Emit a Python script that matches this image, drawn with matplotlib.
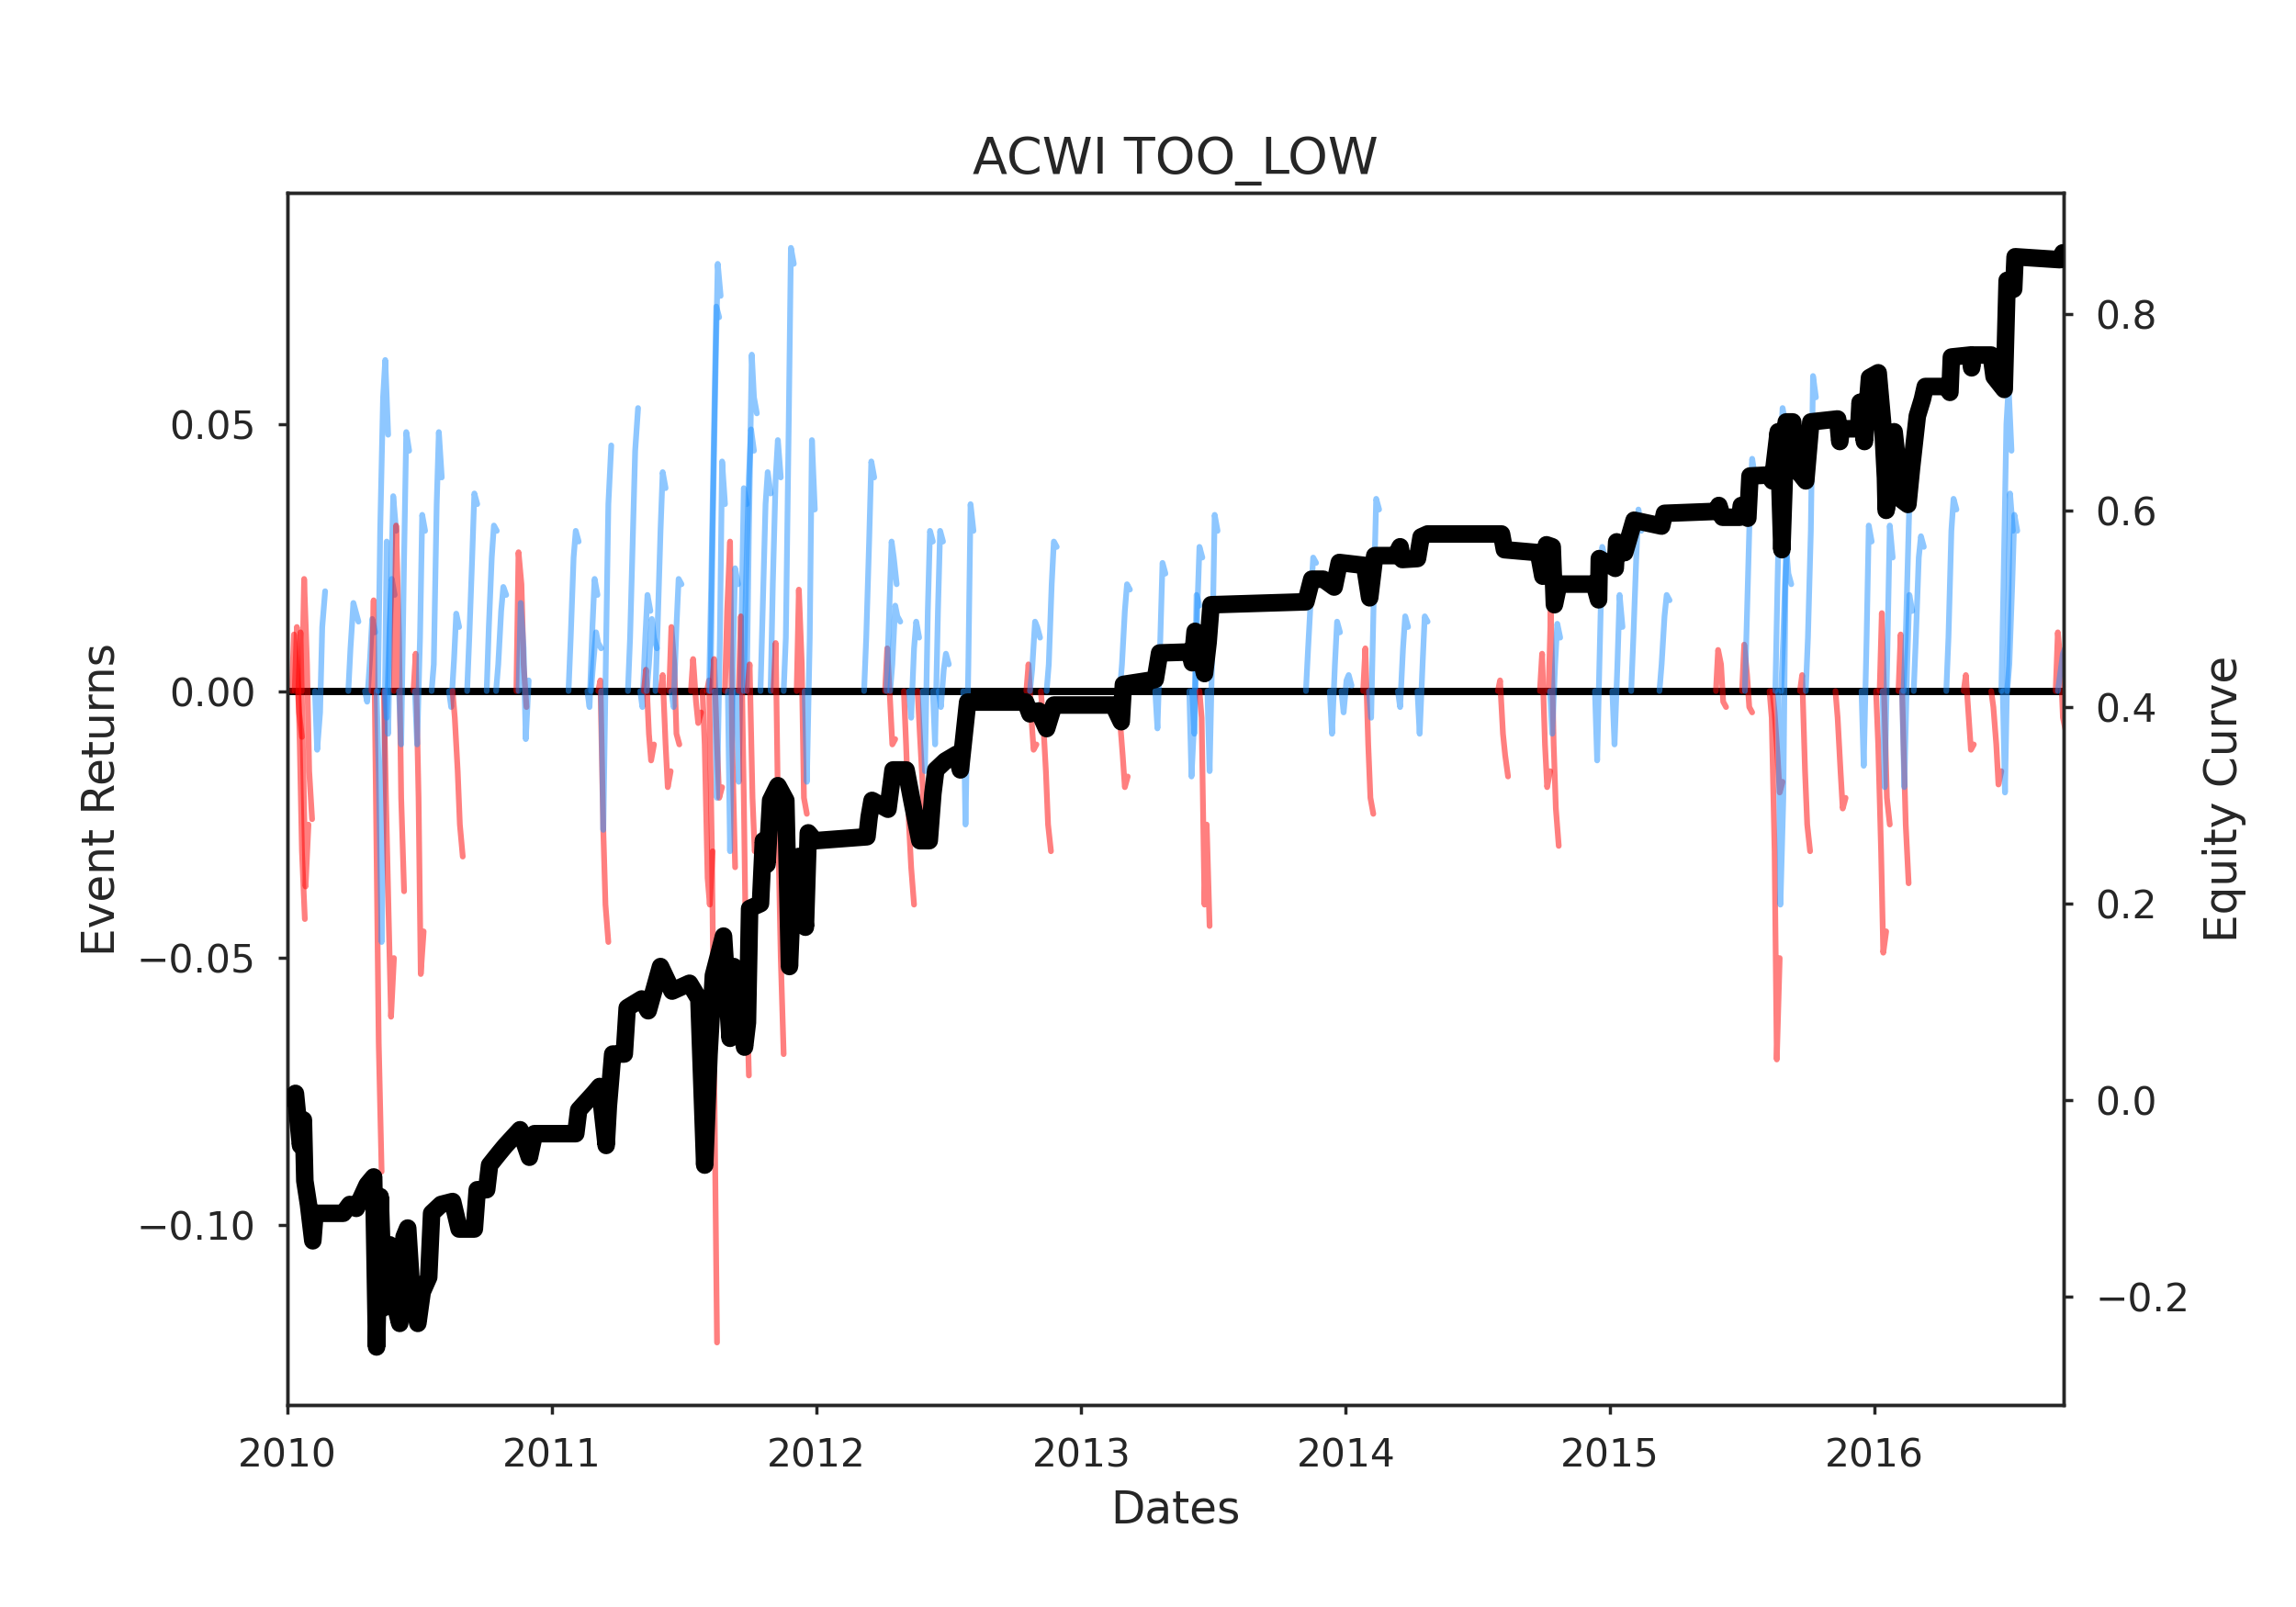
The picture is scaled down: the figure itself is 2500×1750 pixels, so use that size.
import matplotlib
matplotlib.use("Agg")
import matplotlib.pyplot as plt
import matplotlib.dates as mdates
import pandas as pd

TITLE = "ACWI TOO_LOW"
X_LABEL = "Dates"
Y_LABEL_LEFT = "Event Returns"
Y_LABEL_RIGHT = "Equity Curve"

# ---- equity curve (right axis) ----
equity_dates = [
    "2010-01-05", "2010-01-12", "2010-01-19", "2010-01-23", "2010-01-25", "2010-01-30",
    "2010-02-05", "2010-02-08", "2010-03-19", "2010-03-28", "2010-04-06", "2010-04-21",
    "2010-04-30", "2010-05-04", "2010-05-09", "2010-05-14", "2010-05-22", "2010-05-27",
    "2010-06-05", "2010-06-11", "2010-06-16", "2010-06-22", "2010-06-30", "2010-07-06",
    "2010-07-15", "2010-07-19", "2010-08-01", "2010-08-17", "2010-08-26", "2010-09-16",
    "2010-09-20", "2010-10-03", "2010-10-07", "2010-10-20", "2010-10-29", "2010-11-18",
    "2010-12-01", "2010-12-08",
    "2011-02-03", "2011-02-07", "2011-02-28", "2011-03-08", "2011-03-17", "2011-03-20",
    "2011-03-26", "2011-04-11", "2011-04-15", "2011-05-05", "2011-05-14", "2011-05-31",
    "2011-06-16", "2011-07-10", "2011-07-23", "2011-07-31", "2011-08-06", "2011-08-12",
    "2011-08-26", "2011-09-04", "2011-09-09", "2011-09-24", "2011-09-28", "2011-10-01",
    "2011-10-16", "2011-10-20", "2011-10-25", "2011-10-30", "2011-11-09", "2011-11-20",
    "2011-11-25", "2011-11-29", "2011-12-08", "2011-12-17", "2011-12-21", "2011-12-30",
    "2012-03-11", "2012-03-14", "2012-03-18", "2012-04-09", "2012-04-16", "2012-05-04",
    "2012-05-12", "2012-05-23", "2012-06-05", "2012-06-10", "2012-06-14", "2012-06-27",
    "2012-07-13", "2012-07-18", "2012-07-28", "2012-10-16", "2012-10-22", "2012-11-03",
    "2012-11-14", "2012-11-24",
    "2013-02-14", "2013-02-25", "2013-02-28", "2013-04-13", "2013-04-19", "2013-05-31",
    "2013-06-03", "2013-06-07", "2013-06-20", "2013-06-25", "2013-06-29", "2013-11-07",
    "2013-11-15", "2013-12-01", "2013-12-16", "2013-12-23",
    "2014-01-27", "2014-02-03", "2014-02-10", "2014-03-11", "2014-03-17", "2014-03-20",
    "2014-04-10", "2014-04-15", "2014-04-24", "2014-08-04", "2014-08-08", "2014-09-24",
    "2014-09-30", "2014-10-05", "2014-10-13", "2014-10-16", "2014-10-22", "2014-12-10",
    "2014-12-16", "2014-12-17",
    "2015-01-08", "2015-01-10", "2015-01-21", "2015-02-03", "2015-03-13", "2015-03-17",
    "2015-05-27", "2015-05-31", "2015-06-05", "2015-06-29", "2015-07-01", "2015-07-10",
    "2015-07-13", "2015-08-08", "2015-08-13", "2015-08-21", "2015-08-26", "2015-09-01",
    "2015-09-10", "2015-09-14", "2015-09-28", "2015-10-05", "2015-11-11", "2015-11-14",
    "2015-11-16", "2015-12-10", "2015-12-12", "2015-12-18", "2015-12-25",
    "2016-01-06", "2016-01-12", "2016-01-16", "2016-01-17", "2016-01-28", "2016-02-07",
    "2016-02-16", "2016-02-21", "2016-02-29", "2016-03-07", "2016-03-11", "2016-04-09",
    "2016-04-14", "2016-04-16", "2016-05-12", "2016-05-14", "2016-05-16", "2016-06-10",
    "2016-06-14", "2016-06-28", "2016-06-30", "2016-07-02", "2016-07-11", "2016-07-13",
    "2016-09-13", "2016-09-17",
]
equity_values = [
    0.002, 0.007, -0.046, -0.020, -0.082, -0.106,
    -0.143, -0.115, -0.115, -0.106, -0.110, -0.086,
    -0.078, -0.251, -0.098, -0.211, -0.147, -0.200,
    -0.227, -0.139, -0.130, -0.200, -0.227, -0.195,
    -0.180, -0.115, -0.106, -0.103, -0.131, -0.131,
    -0.091, -0.091, -0.066, -0.054, -0.046, -0.030,
    -0.058, -0.034,
    -0.034, -0.010, 0.007, 0.014, -0.046, -0.006,
    0.047, 0.047, 0.094, 0.103, 0.091, 0.136,
    0.111, 0.119, 0.103, -0.066, 0.047, 0.127,
    0.167, 0.063, 0.136, 0.054, 0.079, 0.195,
    0.200, 0.264, 0.240, 0.305, 0.320, 0.305,
    0.136, 0.207, 0.248, 0.176, 0.272, 0.264,
    0.268, 0.288, 0.305, 0.296, 0.336, 0.336,
    0.305, 0.264, 0.264, 0.312, 0.336, 0.345,
    0.352, 0.336, 0.405, 0.405, 0.393, 0.396,
    0.378, 0.402,
    0.402, 0.385, 0.423, 0.428, 0.455, 0.456,
    0.445, 0.477, 0.434, 0.466, 0.504, 0.507,
    0.530, 0.530, 0.522, 0.547,
    0.544, 0.511, 0.554, 0.554, 0.563, 0.550,
    0.551, 0.573, 0.576, 0.576, 0.560, 0.557,
    0.533, 0.565, 0.563, 0.504, 0.525, 0.525,
    0.509, 0.551,
    0.541, 0.568, 0.557, 0.590, 0.584, 0.597,
    0.599, 0.605, 0.593, 0.593, 0.605, 0.592,
    0.635, 0.636, 0.630, 0.680, 0.560, 0.690,
    0.690, 0.643, 0.630, 0.690, 0.693, 0.670,
    0.683, 0.683, 0.710, 0.670, 0.735,
    0.740, 0.690, 0.633, 0.600, 0.680, 0.611,
    0.606, 0.643, 0.696, 0.713, 0.726, 0.726,
    0.720, 0.756, 0.758, 0.745, 0.758, 0.758,
    0.736, 0.723, 0.780, 0.834, 0.825, 0.858,
    0.855, 0.862,
]

# ---- event return paths (left axis) ----
event_day_offsets = [0, 3, 7, 10, 14]
event_dates = [
    "2010-01-07", "2010-01-11", "2010-01-16", "2010-01-21", "2010-02-08", "2010-03-26",
    "2010-04-18", "2010-04-27", "2010-05-04", "2010-05-06", "2010-05-14", "2010-05-15",
    "2010-05-17", "2010-05-28", "2010-06-04", "2010-06-24", "2010-06-26", "2010-07-19",
    "2010-08-12", "2010-08-17", "2010-09-06", "2010-10-03", "2010-10-16", "2010-11-13",
    "2010-11-16",
    "2011-01-24", "2011-02-19", "2011-02-24", "2011-03-06", "2011-03-10", "2011-04-16",
    "2011-05-03", "2011-05-08", "2011-05-12", "2011-05-24", "2011-05-31", "2011-06-12",
    "2011-06-15", "2011-07-12", "2011-07-28", "2011-08-03", "2011-08-06", "2011-08-08",
    "2011-08-10", "2011-08-14", "2011-08-28", "2011-09-01", "2011-09-13", "2011-09-16",
    "2011-09-23", "2011-09-27", "2011-09-28", "2011-10-16", "2011-10-30", "2011-11-03",
    "2011-11-17", "2011-12-05", "2011-12-16",
    "2012-03-07", "2012-04-05", "2012-04-07", "2012-04-12", "2012-05-01", "2012-05-08",
    "2012-05-20", "2012-05-27", "2012-06-10", "2012-06-18", "2012-07-22", "2012-10-17",
    "2012-10-22", "2012-11-06", "2012-11-14",
    "2013-02-20", "2013-02-23", "2013-04-13", "2013-05-30", "2013-06-03", "2013-06-13",
    "2013-06-24", "2013-11-07", "2013-12-10", "2013-12-26",
    "2014-01-25", "2014-02-02", "2014-03-14", "2014-04-10", "2014-07-30", "2014-09-26",
    "2014-10-08", "2014-10-10", "2014-12-11",
    "2015-01-04", "2015-01-30", "2015-03-10", "2015-05-27", "2015-07-02", "2015-07-06",
    "2015-08-09", "2015-08-13", "2015-08-17", "2015-08-21", "2015-08-25", "2015-09-20",
    "2015-09-28", "2015-11-08", "2015-12-14",
    "2016-01-03", "2016-01-08", "2016-01-12", "2016-02-03", "2016-02-08", "2016-02-10",
    "2016-02-24", "2016-04-09", "2016-05-03", "2016-06-10", "2016-06-24", "2016-06-26",
    "2016-07-02", "2016-09-07", "2016-09-10",
]
event_paths = [
    [0, 0.0106, 0.004, -0.004, -0.0086], [0, 0.012, -0.01, -0.03, -0.0427],
    [0, 0.011, -0.015, -0.0366, -0.025], [0, 0.021, 0.005, -0.015, -0.024],
    [0, -0.011, -0.004, 0.012, 0.0187], [0, 0.008, 0.0165, 0.015, 0.013],
    [0, -0.002, 0.006, 0.0135, 0.011], [0, 0.017, -0.03, -0.066, -0.09],
    [0, -0.015, -0.047, -0.02, 0.028], [0, 0.03, 0.055, 0.062, 0.048],
    [0, -0.02, -0.044, -0.061, -0.05], [0, -0.005, 0.012, 0.021, 0.018],
    [0, -0.008, 0.02, 0.0365, 0.03], [0, 0.031, 0.01, -0.02, -0.0375],
    [0, -0.01, 0.025, 0.0485, 0.045], [0, 0.007, -0.02, -0.053, -0.045],
    [0, -0.01, 0.01, 0.033, 0.03], [0, 0.005, 0.035, 0.0485, 0.04],
    [0, -0.003, 0.006, 0.0145, 0.012], [0, -0.005, -0.015, -0.025, -0.031],
    [0, 0.01, 0.025, 0.037, 0.035], [0, 0.012, 0.025, 0.031, 0.03],
    [0, 0.005, 0.015, 0.0195, 0.018], [0, 0.026, 0.02, 0.005, -0.003],
    [0, 0.0165, 0.008, -0.009, 0.002],
    [0, 0.01, 0.025, 0.03, 0.028], [0, -0.003, 0.012, 0.021, 0.018],
    [0, 0.005, 0.011, 0.009, 0.008], [0, 0.002, -0.026, -0.04, -0.047],
    [0, -0.026, 0.01, 0.035, 0.046], [0, 0.01, 0.03, 0.045, 0.053],
    [0, -0.003, 0.01, 0.018, 0.015], [0, 0.004, -0.008, -0.013, -0.01],
    [0, 0.005, 0.0135, 0.01, 0.008], [0, 0.012, 0.03, 0.041, 0.038],
    [0, 0.003, -0.01, -0.018, -0.015], [0, 0.012, 0.005, -0.008, -0.01],
    [0, -0.003, 0.012, 0.021, 0.02], [0, 0.006, -0.002, -0.006, -0.004],
    [0, -0.01, -0.035, -0.04, -0.03], [0, 0.002, -0.03, -0.07, -0.122],
    [0, 0.02, 0.05, 0.072, 0.07], [0, 0.03, 0.06, 0.08, 0.074],
    [0, 0.006, -0.01, -0.02, -0.018], [0, -0.02, 0.01, 0.043, 0.035],
    [0, 0.015, 0.028, -0.01, -0.033], [0, -0.03, 0.005, 0.023, 0.02],
    [0, -0.017, 0.015, 0.038, 0.035], [0, 0.014, -0.02, -0.05, -0.072],
    [0, 0.02, 0.04, 0.049, 0.045], [0, 0.03, 0.063, 0.055, 0.052],
    [0, 0.005, -0.02, -0.03, -0.028], [0, 0.015, 0.035, 0.041, 0.037],
    [0, 0.02, 0.04, 0.047, 0.04], [0, 0.009, -0.03, -0.05, -0.068],
    [0, 0.01, 0.05, 0.083, 0.08], [0, 0.019, 0.005, -0.02, -0.023],
    [0, -0.017, 0.01, 0.047, 0.034],
    [0, 0.01, 0.028, 0.043, 0.04], [0, 0.008, -0.002, -0.01, -0.009],
    [0, 0.012, 0.028, 0.025, 0.02], [0, 0.005, 0.016, 0.014, 0.013],
    [0, -0.01, -0.025, -0.033, -0.04], [0, -0.005, 0.008, 0.013, 0.01],
    [0, -0.008, -0.018, -0.028, -0.026], [0, -0.015, 0.015, 0.03, 0.028],
    [0, -0.01, 0.015, 0.03, 0.028], [0, -0.003, 0.004, 0.007, 0.005],
    [0, -0.025, 0.005, 0.035, 0.03], [0, 0.005, -0.005, -0.011, -0.01],
    [0, 0.004, 0.013, 0.012, 0.01], [0, -0.005, -0.015, -0.025, -0.03],
    [0, 0.005, 0.02, 0.028, 0.027],
    [0, -0.005, -0.012, -0.018, -0.016], [0, 0.005, 0.015, 0.02, 0.019],
    [0, -0.007, 0.01, 0.024, 0.022], [0, -0.016, -0.005, 0.018, 0.016],
    [0, -0.008, 0.015, 0.027, 0.025], [0, -0.005, -0.04, -0.025, -0.044],
    [0, -0.015, 0.01, 0.033, 0.03], [0, 0.008, 0.018, 0.025, 0.024],
    [0, -0.008, 0.005, 0.013, 0.011], [0, -0.004, 0.002, 0.003, 0.001],
    [0, 0.008, -0.01, -0.02, -0.023], [0, -0.005, 0.02, 0.036, 0.034],
    [0, -0.003, 0.008, 0.014, 0.012], [0, -0.008, 0.005, 0.014, 0.013],
    [0, 0.002, -0.008, -0.012, -0.016], [0, 0.007, -0.01, -0.018, -0.015],
    [0, 0.015, -0.01, -0.022, -0.029], [0, -0.008, 0.005, 0.0126, 0.01],
    [0, -0.013, 0.01, 0.027, 0.025],
    [0, -0.01, 0.005, 0.018, 0.012], [0, 0.01, 0.025, 0.034, 0.03],
    [0, 0.005, 0.014, 0.018, 0.017], [0, 0.0077, 0.005, -0.002, -0.003],
    [0, 0.0087, 0.003, -0.003, -0.004], [0, 0.015, 0.035, 0.0435, 0.04],
    [0, -0.005, -0.03, -0.069, -0.05], [0, -0.004, -0.012, -0.019, -0.017],
    [0, 0.02, 0.045, 0.053, 0.05], [0, -0.04, -0.02, 0.02, 0.033],
    [0, 0.01, 0.027, 0.022, 0.02], [0, 0.003, -0.015, -0.025, -0.03],
    [0, 0.01, 0.03, 0.059, 0.055], [0, -0.005, -0.015, -0.022, -0.02],
    [0, -0.014, 0.01, 0.031, 0.028],
    [0, -0.01, -0.03, -0.049, -0.045], [0, 0.0146, -0.005, -0.02, -0.025],
    [0, -0.018, 0.01, 0.031, 0.025], [0, 0.0106, -0.01, -0.025, -0.036],
    [0, -0.018, 0.005, 0.018, 0.015], [0, 0.01, 0.03, 0.045, 0.04],
    [0, 0.01, 0.025, 0.029, 0.027], [0, 0.01, 0.03, 0.036, 0.034],
    [0, 0.003, -0.005, -0.011, -0.01], [0, -0.003, -0.01, -0.0175, -0.015],
    [0, 0.02, 0.05, 0.057, 0.045], [0, -0.019, 0.01, 0.037, 0.03],
    [0, 0.005, 0.02, 0.033, 0.03], [0, 0.011, 0.005, -0.005, -0.0075],
    [0, 0.003, 0.007, 0.008, 0.007],
]

X_START, X_END = "2010-01-01", "2016-09-18"
LEFT_YLIM = (-0.1337, 0.0933)
RIGHT_YLIM = (-0.310, 0.923)
left_ticks = [-0.10, -0.05, 0.00, 0.05]
right_ticks = [-0.2, 0.0, 0.2, 0.4, 0.6, 0.8]

TEXT = "#262626"
POS_COLOR = "#1E90FF"
NEG_COLOR = "#FF0000"

plt.rcParams["font.family"] = ["DejaVu Sans"]

fig = plt.figure(figsize=(10, 7), dpi=250)
ax = fig.add_axes([0.1252, 0.1257, 0.7736, 0.7543])

ax.axhline(0, color="black", lw=2.3, zorder=1)

for d, path in zip(event_dates, event_paths):
    start = pd.Timestamp(d)
    xs = [start + pd.Timedelta(days=o) for o in event_day_offsets]
    color = POS_COLOR if path[-1] >= 0 else NEG_COLOR
    ax.plot(xs, path, color=color, alpha=0.5, lw=1.8,
            solid_capstyle="round", solid_joinstyle="round", zorder=2)

ax2 = ax.twinx()
ax2.plot(pd.to_datetime(equity_dates), equity_values, color="black", lw=5.5,
         solid_capstyle="round", solid_joinstyle="round", zorder=4)

ax.set_xlim(pd.Timestamp(X_START), pd.Timestamp(X_END))
ax.set_ylim(*LEFT_YLIM)
ax2.set_ylim(*RIGHT_YLIM)
ax.set_yticks(left_ticks)
ax2.set_yticks(right_ticks)
ax.xaxis.set_major_locator(mdates.YearLocator())
ax.xaxis.set_major_formatter(mdates.DateFormatter("%Y"))

for a in (ax, ax2):
    for s in a.spines.values():
        s.set_color(TEXT)
        s.set_linewidth(1.0)
    a.tick_params(direction="out", length=2.9, width=1.0, pad=7, color=TEXT,
                  labelcolor=TEXT, labelsize=12.2)

ax.set_title(TITLE, fontsize=16, color=TEXT)
ax.set_xlabel(X_LABEL, fontsize=14, color=TEXT)
ax.set_ylabel(Y_LABEL_LEFT, fontsize=14, color=TEXT)
ax2.set_ylabel(Y_LABEL_RIGHT, fontsize=14, color=TEXT)

fig.savefig("out.png", dpi=250, facecolor="white")
